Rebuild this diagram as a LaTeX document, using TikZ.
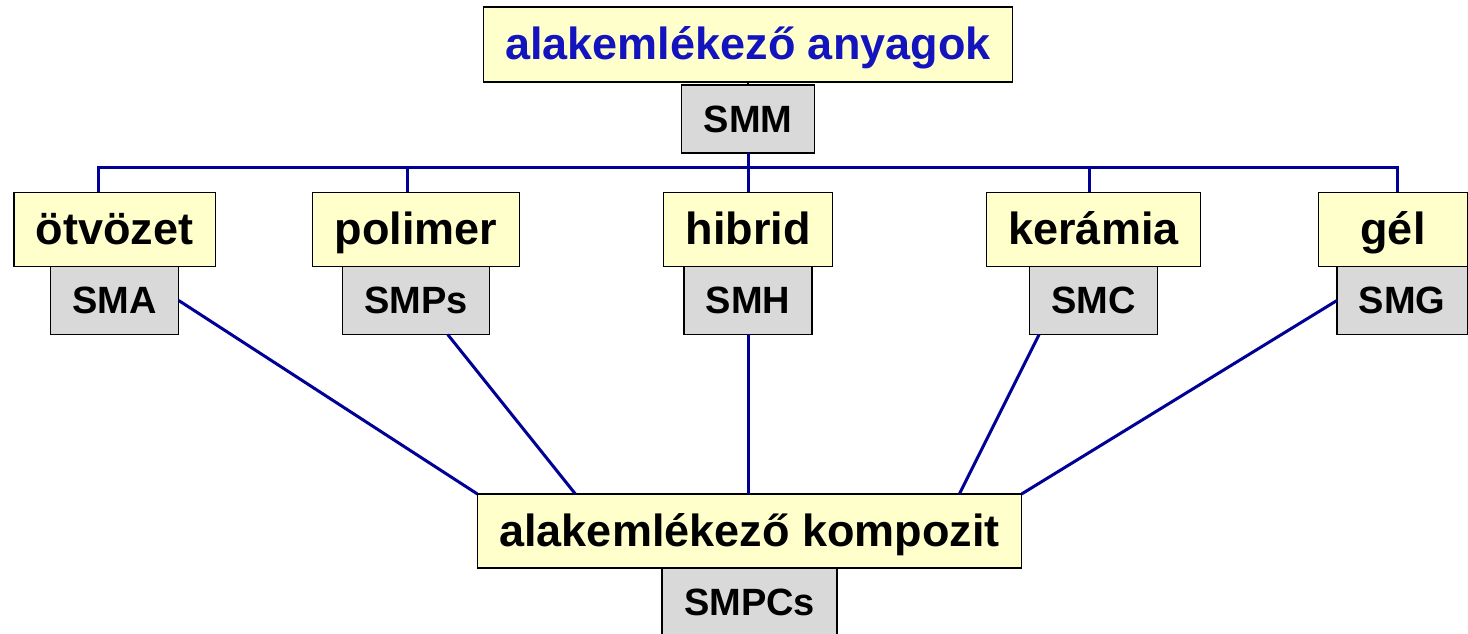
\documentclass[tikz,border=0pt]{standalone}
\usepackage{fontspec}
\setmainfont{Liberation Sans}
\usetikzlibrary{positioning}
\definecolor{boxyellow}{RGB}{255,255,204}
\definecolor{boxgray}{RGB}{217,217,217}
\definecolor{linkblue}{RGB}{0,0,150}
\definecolor{titleblue}{RGB}{20,20,190}

\begin{document}
\begin{tikzpicture}[x=1pt, y=1pt,
      box/.style={draw=black, line width=1.5pt, outer sep=0pt, inner xsep=22pt,
                  inner ysep=0pt, align=center},
      catbox/.style={box, fill=boxyellow, minimum height=74pt, text height=32pt,
                     text depth=1pt, font=\fontsize{45}{54}\selectfont\bfseries},
      acbox/.style={box, fill=boxgray, minimum height=68pt, text height=27pt,
                    text depth=0pt, font=\fontsize{38}{46}\selectfont\bfseries},
      link/.style={draw=linkblue, line width=3pt}
    ]
    \useasboundingbox (0,0) rectangle (1468,634);

    \node[catbox, minimum height=75pt, text=titleblue] (top) at (748,589.5) {alakemlékező anyagok};
    \node[acbox, below=3pt of top] (smm) {SMM};

    % material classes
    \node[catbox] (otv) at (114.5,404.5) {ötvözet};
    \node[catbox] (pol) at (416,404.5) {polimer};
    \node[catbox] (hib) at (748,404.5) {hibrid};
    \node[catbox] (ker) at (1093.5,404.5) {kerámia};
    \node[catbox, minimum width=149pt] (gel) at (1393,404.5) {gél};

    \node[acbox, below=0pt of otv] (sma) {SMA};
    \node[acbox, below=0pt of pol] (smps) {SMPs};
    \node[acbox, below=0pt of hib] (smh) {SMH};
    \node[acbox, below=0pt of ker] (smc) {SMC};
    \node[acbox, below=0pt of gel.south east, anchor=north east] (smg) {SMG};

    \node[catbox] (komp) at (749.5,103) {alakemlékező kompozit};
    \node[acbox, below=0pt of komp] (smpcs) {SMPCs};

    \draw[line width=1.5pt] (top) -- (smm);

    % bus
    \coordinate (bus) at ([yshift=25pt]hib.north);
    \draw[link] ([xshift=-16pt]otv.north) |- (bus) -| ([xshift=4pt]gel.north);
    \foreach \n/\s in {pol/-9pt, ker/-4pt}
      \draw[link] ([xshift=\s]\n.north) -- ([xshift=\s]\n.north |- bus);
    \draw[link] (smm) -- (hib);

    % into the composite
    \draw[link] (sma.east) -- (komp.north west);
    \draw[link] (smps.-47) -- (komp.168.5);
    \draw[link] (smh.south) -- (smh.south |- komp.north);
    \draw[link] (smc.-148) -- (komp.10.8);
    \draw[link] (smg.west) -- (komp.north east);
  \end{tikzpicture}
\end{document}
